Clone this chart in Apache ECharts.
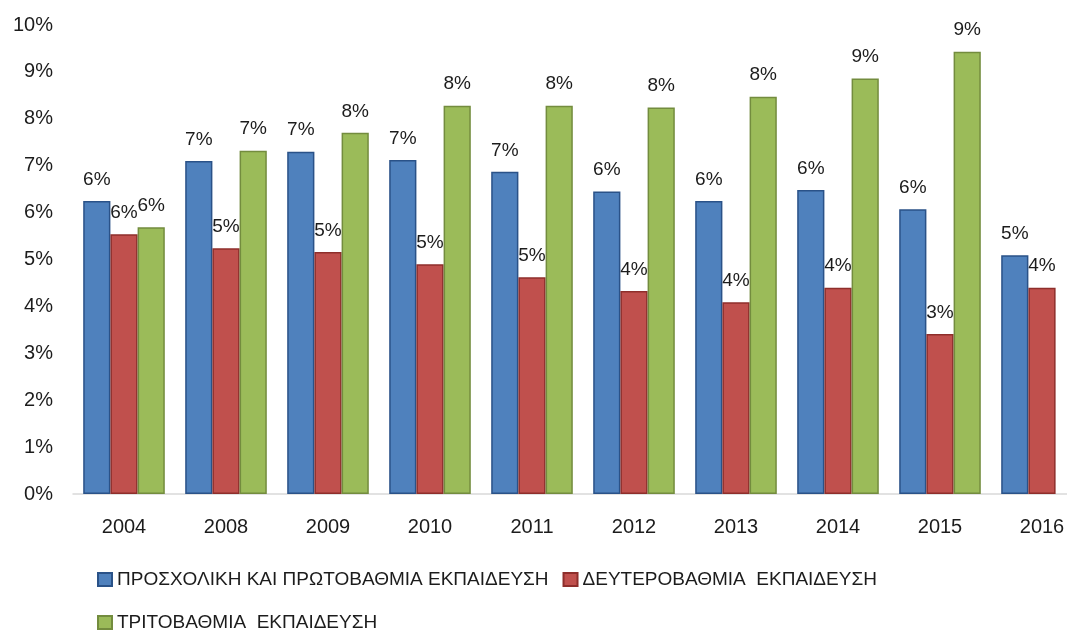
<!DOCTYPE html>
<html>
<head>
<meta charset="utf-8">
<script src="https://cdn.jsdelivr.net/npm/echarts@6/dist/echarts.min.js"></script>
<style>
html,body{margin:0;padding:0;background:#fff;overflow:hidden;width:1067px;height:630px;}
#chart{width:1093px;height:630px;}
</style>
</head>
<body>
<div id="chart"></div>
<script>
var categories = ['2004','2008','2009','2010','2011','2012','2013','2014','2015','2016'];
var seriesNames = ['ΠΡΟΣΧΟΛΙΚΗ ΚΑΙ ΠΡΩΤΟΒΑΘΜΙΑ ΕΚΠΑΙΔΕΥΣΗ', 'ΔΕΥΤΕΡΟΒΑΘΜΙΑ  ΕΚΠΑΙΔΕΥΣΗ', 'ΤΡΙΤΟΒΑΘΜΙΑ  ΕΚΠΑΙΔΕΥΣΗ'];
var primary   = [6.25, 7.10, 7.30, 7.12, 6.87, 6.45, 6.25, 6.48, 6.07, 5.09];
var secondary = [5.54, 5.24, 5.16, 4.90, 4.62, 4.33, 4.09, 4.40, 3.41, 4.40];
var tertiary  = [5.69, 7.32, 7.70, 8.28, 8.28, 8.24, 8.47, 8.86, 9.43, null];
var yTicks = {min: 0, max: 10, interval: 1};

var FONT = 'Liberation Sans';
var TXT = '#1c1c1c';
var colors = ['#4F81BD', '#C0504D', '#9BBB59'];
var borders = ['#2A5288', '#8E2E2B', '#738C3E'];

function mkSeries(i, data) {
  return {
    name: seriesNames[i],
    type: 'bar',
    data: data,
    barGap: '0%',
    barCategoryGap: '20%',
    itemStyle: {color: colors[i], borderColor: borders[i], borderWidth: 1.5},
    label: {
      show: true,
      position: 'top',
      distance: 12,
      color: TXT,
      fontFamily: FONT,
      fontSize: 19,
      formatter: function (p) { return p.value == null ? '' : Math.round(p.value) + '%'; }
    }
  };
}

var chart = echarts.init(document.getElementById('chart'));
chart.setOption({
  animation: false,
  backgroundColor: '#fff',
  textStyle: {fontFamily: FONT},
  grid: {left: 73, top: 25, right: 0, bottom: 136, containLabel: false},
  xAxis: {
    type: 'category',
    data: categories,
    axisLine: {lineStyle: {color: '#D9D9D9', width: 1.5}},
    axisTick: {show: false},
    axisLabel: {color: TXT, fontFamily: FONT, fontSize: 20, margin: 23}
  },
  yAxis: {
    type: 'value',
    min: yTicks.min, max: yTicks.max, interval: yTicks.interval,
    axisLine: {show: false},
    axisTick: {show: false},
    splitLine: {show: false},
    axisLabel: {color: TXT, fontFamily: FONT, fontSize: 20, margin: 20, formatter: '{value}%'}
  },
  legend: [
    {
      data: [seriesNames[0], seriesNames[1]],
      left: 92, top: 565,
      orient: 'horizontal',
      itemWidth: 14, itemHeight: 13, itemGap: 14, itemTextGap: 6,
      icon: 'rect',
      textStyle: {color: TXT, fontFamily: FONT, fontSize: 19}
    },
    {
      data: [seriesNames[2]],
      left: 92, top: 608,
      orient: 'horizontal',
      itemWidth: 14, itemHeight: 13, itemTextGap: 6,
      icon: 'rect',
      textStyle: {color: TXT, fontFamily: FONT, fontSize: 19}
    }
  ],
  series: [mkSeries(0, primary), mkSeries(1, secondary), mkSeries(2, tertiary)]
});
</script>
</body>
</html>
